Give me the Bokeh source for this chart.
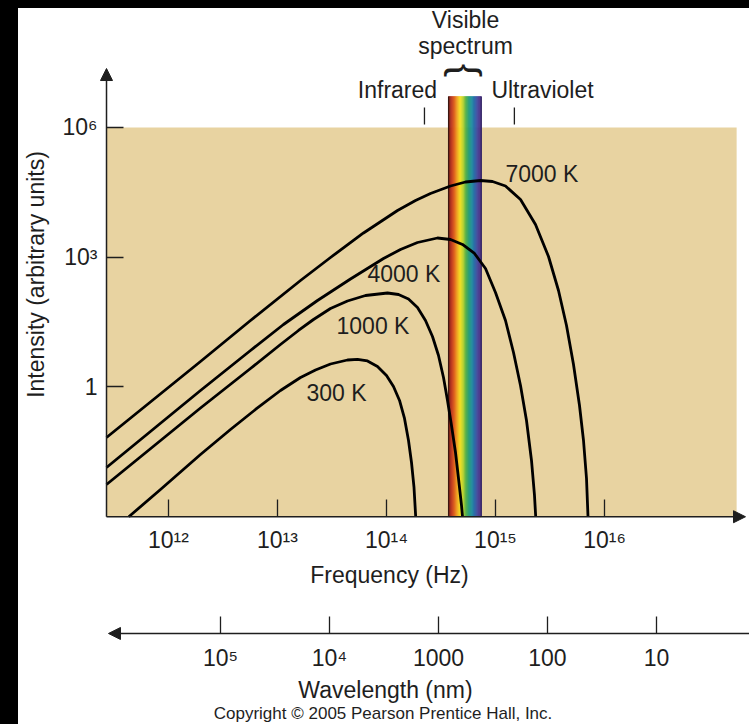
import numpy as np
from bokeh.plotting import figure
from bokeh.models import (Range1d, LogAxis, FixedTicker, LogScale, Arrow, NormalHead, Spacer)
from bokeh.layouts import column, row
from bokeh.embed import file_html
from bokeh.resources import INLINE
from bokeh.core.properties import value

FONT = "Liberation Sans"
INK = "#1e1e1e"
TAN = "#E8D3A1"

# ---------------- data ----------------
freq_ticks = [1e12, 1e13, 1e14, 1e15, 1e16]
freq_tick_labels = ["10¹²", "10¹³", "10¹⁴", "10¹⁵", "10¹⁶"]
intensity_ticks = [1.0, 1e3, 1e6]
intensity_tick_labels = ["1", "10³", "10⁶"]
wavelength_ticks = [1e5, 1e4, 1e3, 1e2, 1e1]
wavelength_tick_labels = ["10⁵", "10⁴", "1000", "100", "10"]

curve_names = ["7000 K", "4000 K", "1000 K", "300 K"]

freq_7000 = [2.70e11, 1.966e12, 5.653e12, 1.626e13, 3.064e13, 6.152e13, 1.262e14, 1.846e14,
             2.533e14, 3.866e14, 5.307e14, 7.286e14, 9.387e14, 1.235e15, 1.696e15, 2.328e15,
             3.064e15, 3.784e15, 4.481e15, 5.195e15, 5.897e15, 6.417e15, 6.837e15, 7.057e15]
int_7000 = [6.80e-2, 3.887, 34.48, 290, 986.7, 3636, 1.205e4, 2.052e4,
            2.979e4, 4.440e4, 5.495e4, 5.951e4, 5.643e4, 4.440e4, 2.164e4, 5717,
            1040, 170.3, 26.42, 3.313, 0.3735, 5.79e-2, 7.66e-3, 1.0e-3]

freq_4000 = [2.70e11, 1.966e12, 5.653e12, 1.135e13, 2.328e13, 4.673e13, 9.387e13, 1.344e14,
             1.925e14, 2.937e14, 3.866e14, 4.980e14, 6.417e14, 8.096e14, 1.0e15, 1.235e15,
             1.463e15, 1.696e15, 1.925e15, 2.139e15, 2.279e15, 2.338e15]
int_4000 = [1.376e-2, 0.830, 6.983, 27.87, 100, 314.2, 935.7, 1511,
            2193, 2787, 2573, 1972, 1221, 549.6, 153.1, 34.48,
            6.276, 1.083, 0.168, 2.0e-2, 3.10e-3, 1.0e-3]

freq_1000 = [2.70e11, 1.966e12, 5.653e12, 1.065e13, 1.558e13, 2.139e13, 3.064e13, 4.387e13,
             6.417e13, 1.021e14, 1.289e14, 1.592e14, 1.925e14, 2.279e14, 2.642e14, 3.000e14,
             3.334e14, 3.628e14, 3.947e14, 4.296e14, 4.577e14, 4.877e14, 4.98e14]
int_1000 = [5.57e-3, 0.327, 2.678, 9.61, 20.25, 36.36, 65.3, 97.4,
            130.5, 149.1, 137.6, 108.3, 68.9, 34.48, 14.71, 5.349,
            1.658, 0.4874, 0.1288, 3.06e-2, 7.66e-3, 1.82e-3, 1.0e-3]

freq_300 = [4.324e11, 8.445e11, 1.966e12, 3.705e12, 6.283e12, 1.065e13, 1.626e13, 2.232e13,
            3.064e13, 4.387e13, 5.418e13, 6.694e13, 8.268e13, 1.0e14, 1.159e14, 1.317e14,
            1.463e14, 1.592e14, 1.696e14, 1.788e14, 1.853e14]
int_300 = [1.0e-3, 4.27e-3, 2.75e-2, 0.104, 0.302, 0.830, 1.658, 2.472,
           3.402, 4.210, 4.370, 3.992, 2.979, 1.845, 1.027, 0.4874,
           0.187, 5.79e-2, 1.796e-2, 4.75e-3, 1.0e-3]

label_freq = [1.235e15, 6.694e13, 3.48e13, 1.846e13]
label_intensity = [8.41e4, 410, 26.4, 0.727]

visible_band = [3.71e14, 7.40e14]      # Hz
visible_top = 5.2e6
region_bounds = [2.23e14, 1.49e15]     # infrared / ultraviolet marks (Hz)
region_names = ["Infrared", "Ultraviolet"]
region_label_freq = [1.26e14, 2.70e15]

# ---------------- geometry (data space) ----------------
XR0, XR1 = 4.207e10, 2.139e17      # whole canvas width
YR0, YR1 = 1.572e-8, 5.64e8        # whole canvas height
X_AXIS = 2.70e11                   # where the intensity axis sits
X_END = 1.966e17                   # frequency-axis arrow tip
Y_AXIS = 1e-3                      # frequency axis
Y_TOP = 1e6                        # top of shaded region
Y_ARROW = 2.31e7                   # intensity-axis arrow tip
Y_WL = 2.0e-6                      # wavelength axis
C_NM = 2.998e17                    # speed of light in nm/s (wavelength axis scale)

p = figure(width=731, height=716, x_axis_type="log", y_axis_type="log",
           x_range=Range1d(XR0, XR1), y_range=Range1d(YR0, YR1),
           min_border=0, min_border_left=0, min_border_right=0, min_border_top=0,
           min_border_bottom=0, toolbar_location=None, output_backend="svg",
           background_fill_color="white", border_fill_color="white")
p.outline_line_color = None
p.grid.visible = False

# shaded region
p.quad(left=[X_AXIS], right=[1.63e17], bottom=[Y_AXIS], top=[Y_TOP], fill_color=TAN, line_color=None)

# visible spectrum bar
stops = ["#6a1810", "#b8301c", "#e0621e", "#f0a41e", "#f6e21e", "#b8d234", "#4cae4a",
         "#1e9c7c", "#1e8aa2", "#2e62aa", "#46409a", "#4a2a80"]
rgb = np.array([[int(c[i:i + 2], 16) for i in (1, 3, 5)] for c in stops], dtype=float)
n = 36
pos = np.linspace(0, 1, len(stops))
t = (np.arange(n) + 0.5) / n
cols = ["#%02x%02x%02x" % tuple(int(round(np.interp(tt, pos, rgb[:, k]))) for k in range(3)) for tt in t]
edges = np.logspace(np.log10(visible_band[0]), np.log10(visible_band[1]), n + 1)
p.quad(left=edges[:-1], right=edges[1:], bottom=Y_AXIS, top=visible_top,
       fill_color=cols, line_color=cols, line_width=0.5)
p.segment(x0=visible_band, y0=[Y_AXIS, Y_AXIS], x1=visible_band, y1=[visible_top, visible_top],
          line_color=["#3c1610", "#2e2060"], line_width=1.2)

# infrared / ultraviolet marks
p.segment(x0=region_bounds, y0=[1.17e6, 1.17e6], x1=region_bounds, y1=[2.9e6, 2.9e6],
          line_color=INK, line_width=1.3)

# blackbody curves
for fx, iy in [(freq_7000, int_7000), (freq_4000, int_4000), (freq_1000, int_1000), (freq_300, int_300)]:
    p.line(fx, iy, line_color="black", line_width=2.8, line_join="round")

txt = dict(text_font=value(FONT), text_font_size="23px", text_color=INK, text_baseline="middle")
p.text(x=label_freq, y=label_intensity, text=curve_names, text_align="left", **txt)
p.text(x=region_label_freq, y=[7.17e6, 7.17e6], text=region_names, text_align="center", **txt)
vis_center = 5.31e14
p.text(x=[vis_center, vis_center], y=[2.98e8, 7.46e7], text=["Visible", "spectrum"],
       text_align="center", **txt)
p.text(x=[vis_center], y=[2.08e7], text=["{"], angle=-np.pi / 2, text_align="center",
       text_baseline="middle", text_font=value(FONT), text_font_size="40px", text_color=INK)

# axis titles
p.text(x=[6.15e10], y=[399], text=["Intensity (arbitrary units)"], angle=np.pi / 2,
       text_align="center", **txt)
p.text(x=[1.065e14], y=[4.62e-5], text=["Frequency (Hz)"], text_align="center", **txt)
p.text(x=[9.79e13], y=[1.013e-7], text=["Wavelength (nm)"], text_align="center", **txt)
p.text(x=[9.29e13], y=[2.825e-8], text=["Copyright © 2005 Pearson Prentice Hall, Inc."],
       text_align="center", text_font=value(FONT), text_font_size="17px", text_color=INK,
       text_baseline="middle")

# ---------------- axes ----------------
def style_axis(ax, standoff):
    ax.major_tick_in = 17
    ax.major_tick_out = 0
    ax.minor_tick_in = 0
    ax.minor_tick_out = 0
    ax.major_tick_line_color = INK
    ax.major_tick_line_width = 1.3
    ax.axis_line_color = None
    ax.major_label_text_font = FONT
    ax.major_label_text_font_size = "23px"
    ax.major_label_text_color = INK
    ax.major_label_standoff = standoff

ya = p.yaxis[0]
ya.ticker = FixedTicker(ticks=intensity_ticks)
ya.major_label_overrides = dict(zip(intensity_ticks, intensity_tick_labels))
ya.fixed_location = X_AXIS
style_axis(ya, 9)

xa = p.xaxis[0]
xa.ticker = FixedTicker(ticks=freq_ticks)
xa.major_label_overrides = dict(zip(freq_ticks, freq_tick_labels))
xa.fixed_location = Y_AXIS
style_axis(xa, 10)

p.extra_x_ranges = {"wl": Range1d(start=C_NM / XR0, end=C_NM / XR1)}
p.extra_x_scales = {"wl": LogScale()}
wa = LogAxis(x_range_name="wl", ticker=FixedTicker(ticks=wavelength_ticks))
wa.major_label_overrides = dict(zip(wavelength_ticks, wavelength_tick_labels))
wa.fixed_location = Y_WL
style_axis(wa, 12)
p.add_layout(wa, "below")

# axis lines with arrow heads
def head():
    return NormalHead(size=12, fill_color=INK, line_color=INK, line_width=1)

p.add_layout(Arrow(end=head(), x_start=X_AXIS, y_start=Y_AXIS, x_end=X_AXIS, y_end=Y_ARROW,
                   line_color=INK, line_width=1.5))
p.add_layout(Arrow(end=head(), x_start=X_AXIS, y_start=Y_AXIS, x_end=X_END, y_end=Y_AXIS,
                   line_color=INK, line_width=1.5))
p.add_layout(Arrow(end=head(), x_start=XR1, y_start=Y_WL, x_end=2.815e11, y_end=Y_WL,
                   line_color=INK, line_width=1.5))

top_bar = Spacer(width=749, height=8, styles={"background-color": "black"})
left_bar = Spacer(width=18, height=716, styles={"background-color": "black"})
layout = column(top_bar, row(left_bar, p))

open("out.html", "w").write(file_html(layout, INLINE))
